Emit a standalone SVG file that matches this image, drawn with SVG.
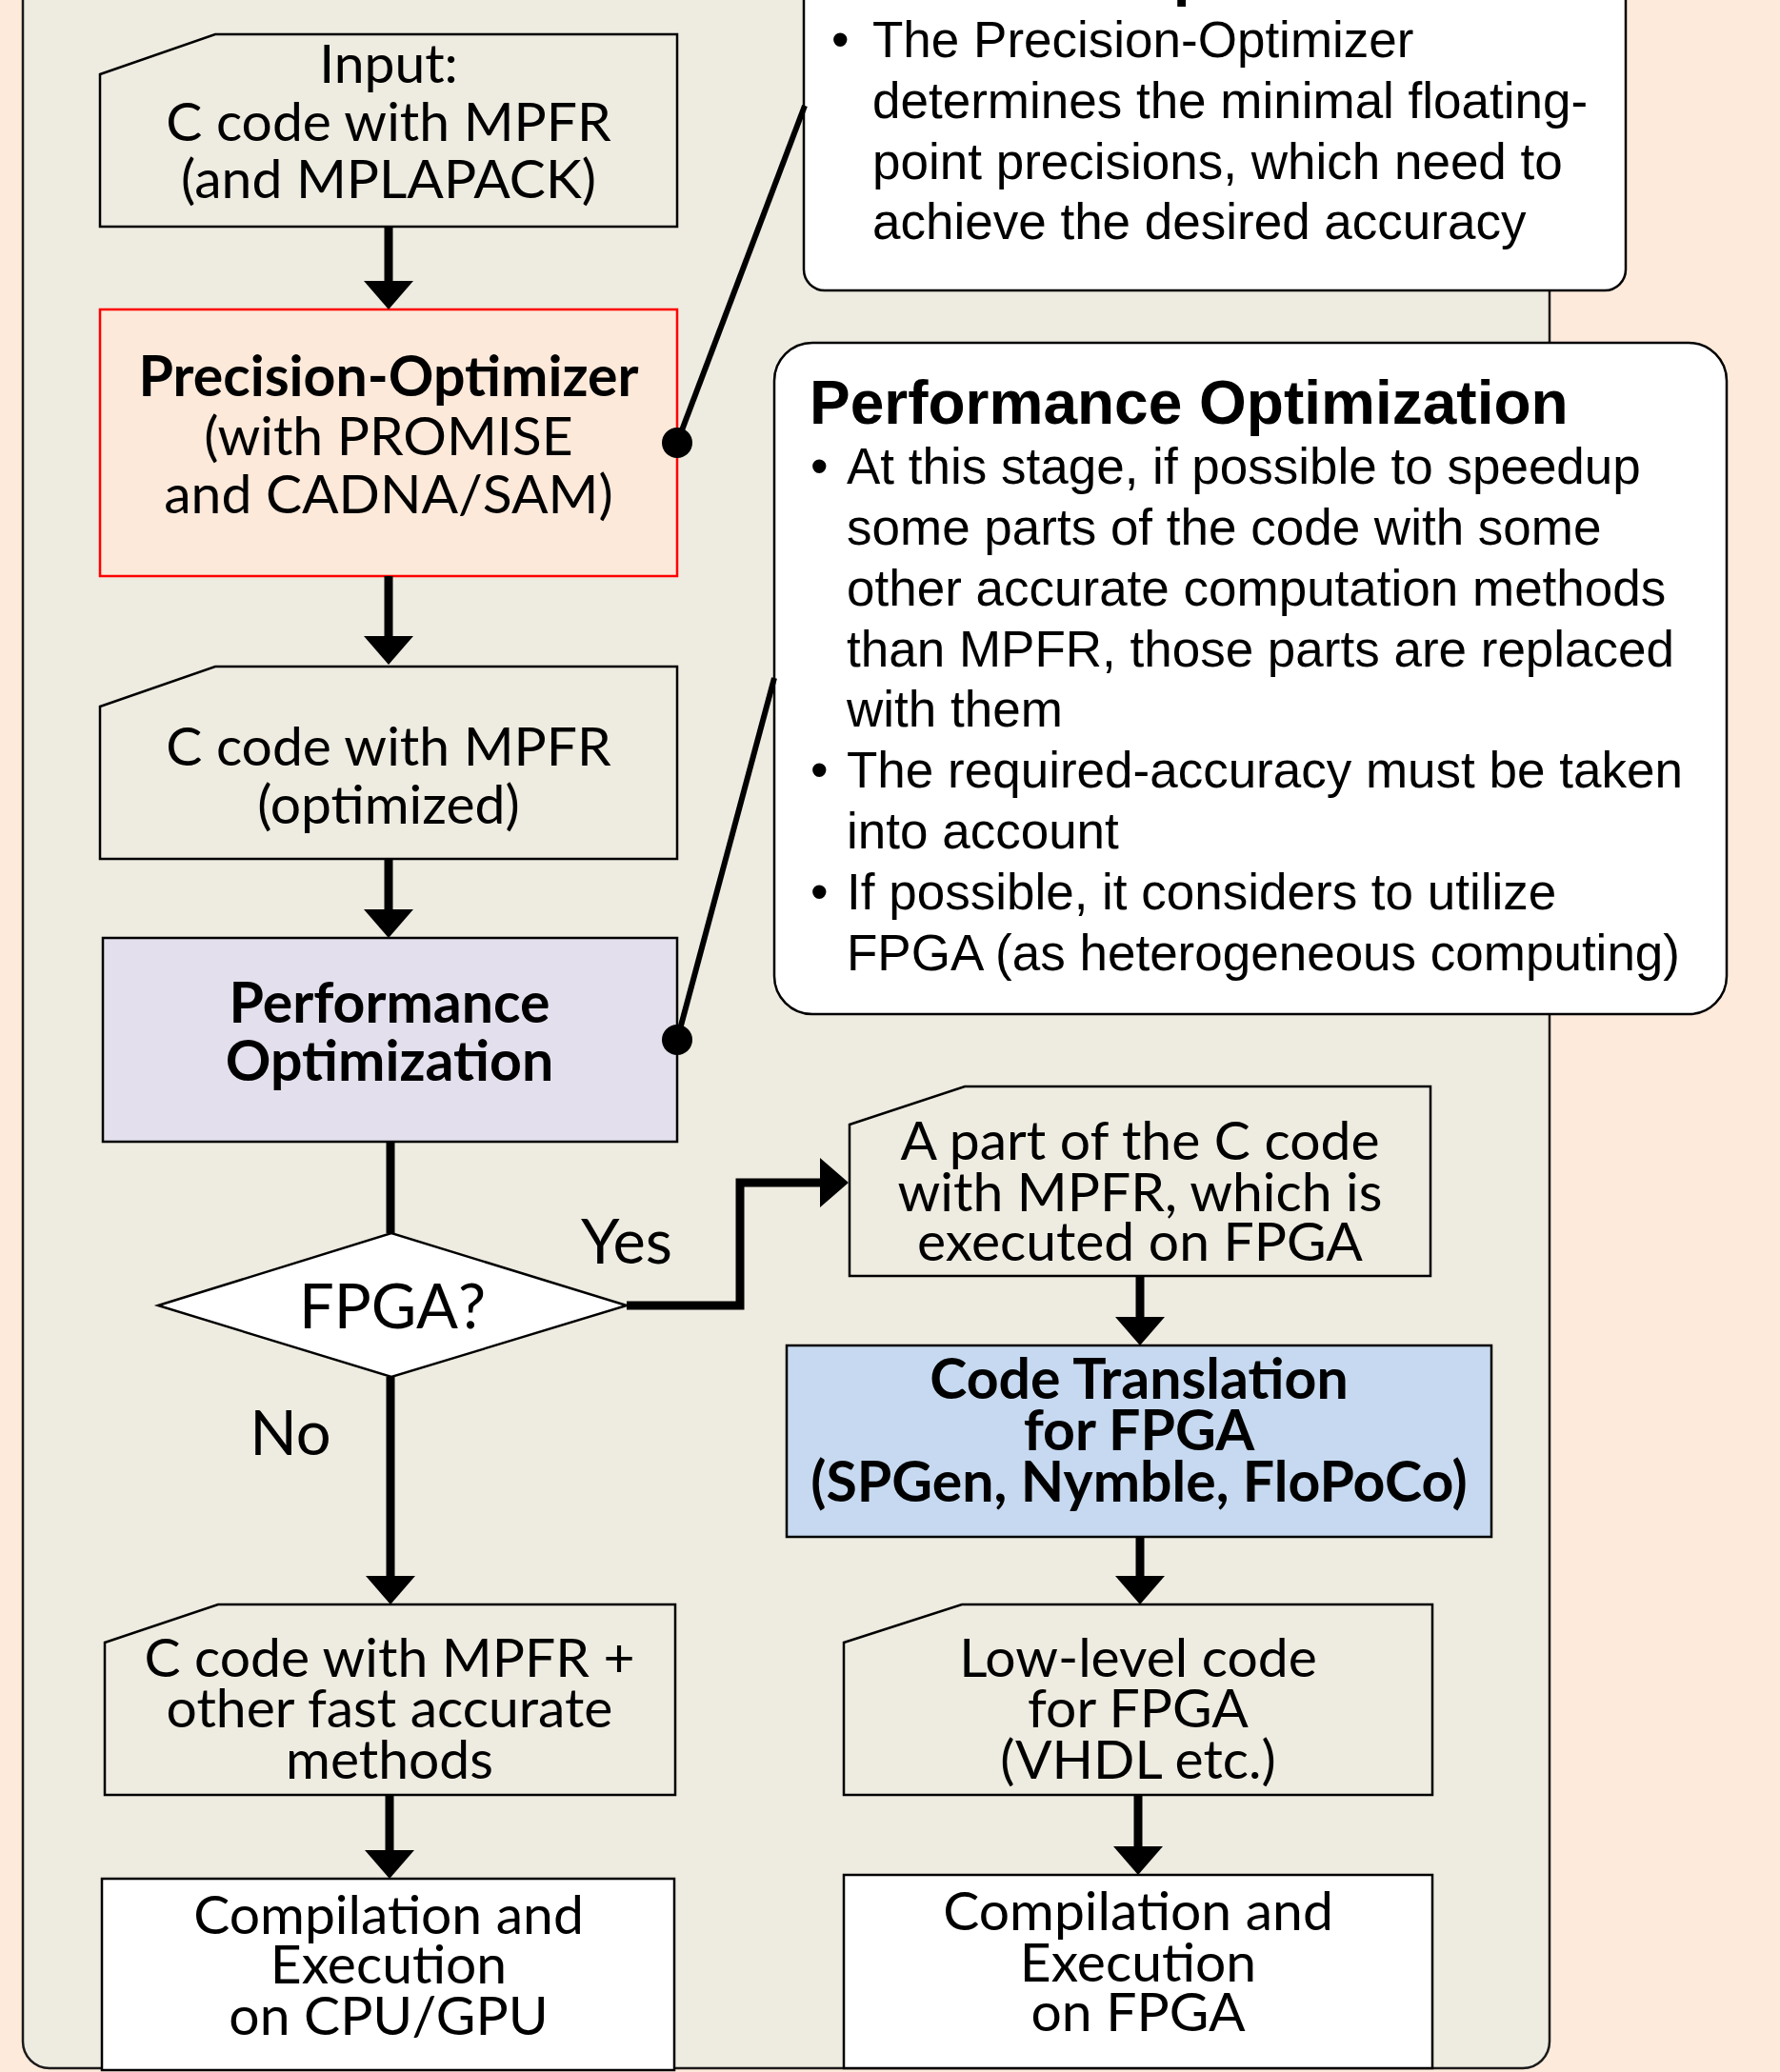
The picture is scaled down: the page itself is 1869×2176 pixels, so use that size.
<svg xmlns="http://www.w3.org/2000/svg" width="1869" height="2176" viewBox="0 0 1869 2176">
  <style>
    .panel { fill: #EEEBE0; stroke: #1a1a1a; stroke-width: 2.5; }
    .doc { fill: #EEEBE0; stroke: #000; stroke-width: 2.5; stroke-linejoin: miter; }
    .white { fill: #FFFFFF; stroke: #000; stroke-width: 2.5; }
    .note { fill: #FFFFFF; stroke: #000; stroke-width: 2.5; }
    .lbl { font-family: Lato, "Liberation Sans", sans-serif; font-size: 57px; fill: #000; text-anchor: middle; }
    .bold { font-weight: bold; font-size: 59px; }
    .big { font-size: 65px; }
    .ntxt { font-family: "Liberation Sans", Arial, sans-serif; font-size: 53px; fill: #000; }
    .ntitle { font-family: "Liberation Sans", Arial, sans-serif; font-size: 64px; font-weight: bold; fill: #000; }
    .flow { fill: none; stroke: #000; stroke-width: 9; stroke-linejoin: miter; }
    .lead { fill: none; stroke: #000; stroke-width: 6; }
  </style>
  <defs>
    <marker id="head" viewBox="0 0 30 52" markerUnits="userSpaceOnUse" markerWidth="30" markerHeight="52" refX="3" refY="26" orient="auto">
      <path d="M0,0 L30,26 L0,52 Z" fill="#000"/>
    </marker>
  </defs>

  <!-- page background and main panel -->
  <rect x="0" y="0" width="1869" height="2176" fill="#FDEADB"/>
  <rect class="panel" x="24" y="-60" width="1603" height="2232" rx="28"/>

  <!-- note: precision optimization -->
  <g id="note-precision">
    <rect class="note" x="844" y="-60" width="863" height="365" rx="22"/>
    <text class="ntitle" x="876" y="-6">Precision Optimization</text>
    <text class="ntxt" x="873" y="60">•</text>
    <text class="ntxt" x="916" y="60">The Precision-Optimizer</text>
    <text class="ntxt" x="916" y="124">determines the minimal floating-</text>
    <text class="ntxt" x="916" y="188">point precisions, which need to</text>
    <text class="ntxt" x="916" y="251">achieve the desired accuracy</text>
  </g>

  <!-- note: performance optimization -->
  <g id="note-performance">
    <rect class="note" x="813" y="360" width="1000" height="705" rx="40"/>
    <text class="ntitle" x="850" y="445">Performance Optimization</text>
    <text class="ntxt" x="851" y="508">•</text>
    <text class="ntxt" x="889" y="508">At this stage, if possible to speedup</text>
    <text class="ntxt" x="889" y="572">some parts of the code with some</text>
    <text class="ntxt" x="889" y="636">other accurate computation methods</text>
    <text class="ntxt" x="889" y="700">than MPFR, those parts are replaced</text>
    <text class="ntxt" x="889" y="763">with them</text>
    <text class="ntxt" x="851" y="827">•</text>
    <text class="ntxt" x="889" y="827">The required-accuracy must be taken</text>
    <text class="ntxt" x="889" y="891">into account</text>
    <text class="ntxt" x="851" y="955">•</text>
    <text class="ntxt" x="889" y="955">If possible, it considers to utilize</text>
    <text class="ntxt" x="889" y="1019">FPGA (as heterogeneous computing)</text>
  </g>

  <!-- flow nodes -->
  <g id="input">
    <path class="doc" d="M105,78 L226,36 H711 V238 H105 Z"/>
    <text class="lbl" x="408" y="87">Input:</text>
    <text class="lbl" x="408" y="148">C code with MPFR</text>
    <text class="lbl" x="408" y="208">(and MPLAPACK)</text>
  </g>

  <g id="precision-optimizer">
    <rect x="105" y="325" width="606" height="280" fill="#FCE9DA" stroke="#FF0000" stroke-width="2.5"/>
    <text class="lbl bold" x="408" y="416">Precision-Optimizer</text>
    <text class="lbl" x="408" y="478">(with PROMISE</text>
    <text class="lbl" x="408" y="539">and CADNA/SAM)</text>
  </g>

  <g id="optimized-code">
    <path class="doc" d="M105,742 L226,700 H711 V902 H105 Z"/>
    <text class="lbl" x="408" y="804">C code with MPFR</text>
    <text class="lbl" x="408" y="865">(optimized)</text>
  </g>

  <g id="performance-optimization">
    <rect x="108" y="985" width="603" height="214" fill="#E4DFEC" stroke="#000" stroke-width="2.5"/>
    <text class="lbl bold" x="409" y="1074">Performance</text>
    <text class="lbl bold" x="409" y="1135">Optimization</text>
  </g>

  <g id="fpga-decision">
    <path d="M166,1371 L411,1295 L658,1371 L411,1446 Z" fill="#FFFFFF" stroke="#000" stroke-width="2.5"/>
    <text class="lbl big" x="412" y="1395">FPGA?</text>
  </g>

  <g id="fpga-part">
    <path class="doc" d="M892,1181 L1013,1141 H1502 V1340 H892 Z"/>
    <text class="lbl" x="1197" y="1218">A part of the C code</text>
    <text class="lbl" x="1197" y="1272">with MPFR, which is</text>
    <text class="lbl" x="1197" y="1324">executed on FPGA</text>
  </g>

  <g id="code-translation">
    <rect x="826" y="1413" width="740" height="201" fill="#C6D9F0" stroke="#000" stroke-width="2.5"/>
    <text class="lbl bold" x="1196" y="1469">Code Translation</text>
    <text class="lbl bold" x="1196" y="1523">for FPGA</text>
    <text class="lbl bold" x="1196" y="1577">(SPGen, Nymble, FloPoCo)</text>
  </g>

  <g id="fast-methods">
    <path class="doc" d="M110,1725 L229,1685 H709 V1885 H110 Z"/>
    <text class="lbl" x="409" y="1761">C code with MPFR +</text>
    <text class="lbl" x="409" y="1814">other fast accurate</text>
    <text class="lbl" x="409" y="1868">methods</text>
  </g>

  <g id="low-level">
    <path class="doc" d="M886,1725 L1010,1685 H1504 V1885 H886 Z"/>
    <text class="lbl" x="1195" y="1761">Low-level code</text>
    <text class="lbl" x="1195" y="1814">for FPGA</text>
    <text class="lbl" x="1195" y="1868">(VHDL etc.)</text>
  </g>

  <g id="exec-cpu-gpu">
    <rect class="white" x="107" y="1973" width="601" height="201"/>
    <text class="lbl" x="408" y="2031">Compilation and</text>
    <text class="lbl" x="408" y="2083">Execution</text>
    <text class="lbl" x="408" y="2137">on CPU/GPU</text>
  </g>

  <g id="exec-fpga">
    <rect class="white" x="886" y="1969" width="618" height="203"/>
    <text class="lbl" x="1195" y="2027">Compilation and</text>
    <text class="lbl" x="1195" y="2081">Execution</text>
    <text class="lbl" x="1195" y="2133">on FPGA</text>
  </g>

  <!-- callout leader lines, drawn over the box edges -->
  <g id="leaders">
    <path class="lead" d="M711,465 L845,111"/>
    <circle cx="711" cy="465" r="16" fill="#000"/>
    <path class="lead" d="M711,1092 L813,712"/>
    <circle cx="711" cy="1092" r="16" fill="#000"/>
  </g>

  <!-- connectors -->
  <g id="connectors">
    <path class="flow" d="M408,238 V298" marker-end="url(#head)"/>
    <path class="flow" d="M408,605 V671" marker-end="url(#head)"/>
    <path class="flow" d="M408,902 V958" marker-end="url(#head)"/>
    <path class="flow" d="M410,1199 V1295"/>
    <path class="flow" d="M658,1371 H777 V1242 H864" marker-end="url(#head)"/>
    <text class="lbl big" x="658" y="1327">Yes</text>
    <path class="flow" d="M410,1446 V1658" marker-end="url(#head)"/>
    <text class="lbl big" x="305" y="1528">No</text>
    <path class="flow" d="M1197,1340 V1386" marker-end="url(#head)"/>
    <path class="flow" d="M1197,1614 V1658" marker-end="url(#head)"/>
    <path class="flow" d="M409,1885 V1946" marker-end="url(#head)"/>
    <path class="flow" d="M1195,1885 V1942" marker-end="url(#head)"/>
  </g>
</svg>
